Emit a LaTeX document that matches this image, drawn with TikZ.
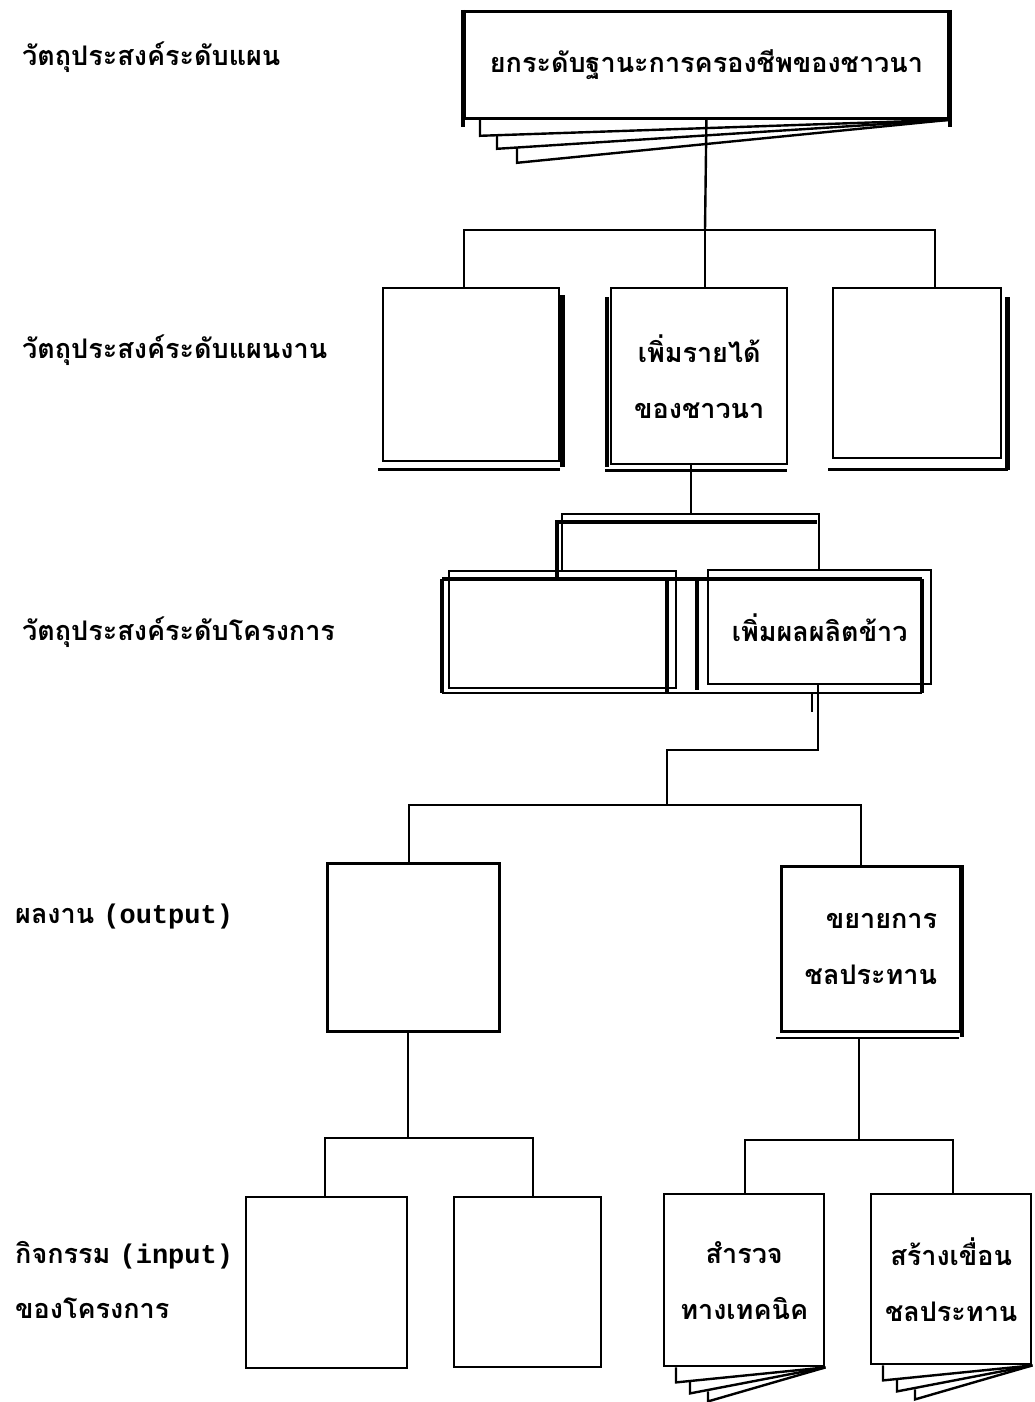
\documentclass[tikz,border=0pt]{standalone}
\usepackage{fontspec}
\newfontfamily\thai[Script=Thai]{Loma}
\newfontfamily\latmono{Liberation Mono}
\begin{document}
\begin{tikzpicture}[x=1pt,y=-1pt,
  bx/.style={draw, line width=2.4pt, inner sep=0pt, anchor=north west, align=center,
    font=\thai\bfseries\fontsize{27}{56}\selectfont},
  bxk/.style={bx, line width=3.4pt},
  lbl/.style={anchor=base west, inner sep=0pt, font=\thai\bfseries\fontsize{27}{56}\selectfont},
  ln/.style={line width=2.4pt},
  tk/.style={line width=4.4pt},
]
\fill[white] (0,0) rectangle (1034,1402);
\useasboundingbox (0,0) rectangle (1034,1402);

% level labels
\node[lbl] (l1) at (22,66) {วัตถุประสงค์ระดับแผน};
\node[lbl] (l2) at (22,358) {วัตถุประสงค์ระดับแผนงาน};
\node[lbl] (l3) at (22,640) {วัตถุประสงค์ระดับโครงการ};
\node[lbl] (l4) at (15,923) {ผลงาน {\latmono\fontsize{27}{56}\selectfont (output)}};
\node[lbl] (l5) at (15,1263) {กิจกรรม {\latmono\fontsize{27}{56}\selectfont (input)}};
\node[lbl] (l6) at (15,1318) {ของโครงการ};

% plan goal
\node[bx, line width=2.8pt, minimum width=484pt, minimum height=107pt] (goal) at (463,10) {ยกระดับฐานะการครองชีพของชาวนา};
\draw[tk] (goal.north west) -- ++(0,117);
\draw[tk] (goal.north east) -- ++(0,117);
\draw[ln] (goal.south west) ++(17,0) -- ++(0,16) -- (goal.south east);
\draw[ln] (goal.south west) ++(34,15) -- ++(0,14) -- (goal.south east);
\draw[ln] (goal.south west) ++(54,28) -- ++(0,15) -- (goal.south east);

% program level
\node[bx, minimum width=176pt, minimum height=173pt] (pA) at (382,287) {};
\node[bx, minimum width=176pt, minimum height=176pt] (pB) at (610,287) {เพิ่มรายได้\\ของชาวนา};
\node[bx, minimum width=168pt, minimum height=170pt] (pC) at (832,287) {};
\draw[tk] (pA.north east) ++(2,8) -- ++(0,172);
\draw[ln] (pA.south west) ++(-4,7) -- ++(182,0);
\draw[tk] (pB.north west) ++(-3,10) -- ++(0,170);
\draw[ln] (pB.south west) ++(-5,5) -- ++(182,0);
\draw[tk] (pC.north east) ++(5,10) -- ++(0,173);
\draw[ln] (pC.south west) ++(-4,10) -- ++(180,0);

\coordinate (b1) at (705,230);
\coordinate (d1) at (464,230);
\coordinate (d3) at (935,230);
\draw[ln] (goal.south) -- (b1);
\draw[ln] (d1 |- pA.north) -- (d1) -- (d3) -- (d3 |- pC.north);
\draw[ln] (b1) -- (b1 |- pB.north);

% project level
\node[bx, minimum width=227pt, minimum height=117pt] (qA) at (448,570) {};
\node[bx, minimum width=223pt, minimum height=114pt] (qB) at (707,569) {เพิ่มผลผลิตข้าว};
\coordinate (fr) at (442,579);
\draw[tk] (fr) -- ++(480,0);
\draw[tk] (fr) -- ++(0,114);
\draw[tk] (fr) ++(225,0) -- ++(0,114);
\draw[tk] (fr) ++(255,0) -- ++(0,111);
\draw[tk] (fr) ++(480,0) -- ++(0,114);
\draw[ln] (fr) ++(0,114) -- ++(480,0);

\coordinate (b2) at (691,514);
\coordinate (e1) at (562,514);
\coordinate (e2) at (819,514);
\coordinate (f1) at (557,522);
\coordinate (f2) at (817,522);
\draw[ln] (b2 |- pB.south) -- (b2);
\draw[ln] (e1 |- qA.north) -- (e1) -- (e2) -- (e2 |- qB.north);
\draw[tk] (f2) -- (f1) -- (f1 |- fr);

% output level
\node[bxk, minimum width=172pt, minimum height=168pt] (rA) at (326,862) {};
\node[bx, line width=2.8pt, minimum width=179pt, minimum height=165pt, align=right] (rB) at (780,865) {ขยายการ\\ชลประทาน};
\draw[tk] (rB.north east) -- ++(0,172);
\draw[ln] (rB.south west) ++(-4,5) -- ++(183,0);

\coordinate (g1) at (818,750);
\coordinate (g2) at (667,750);
\coordinate (g3) at (812,712);
\coordinate (h1) at (409,805);
\coordinate (h2) at (861,805);
\draw[ln] (g1 |- qB.south) -- (g1) -- (g2) -- (g2 |- h1);
\draw[ln] (g3 |- fr) ++(0,114) -- (g3);
\draw[ln] (h1 |- rA.north) -- (h1) -- (h2) -- (h2 |- rB.north);

% activities
\node[bx, minimum width=161pt, minimum height=171pt] (sA) at (245,1196) {};
\node[bx, minimum width=147pt, minimum height=170pt] (sB) at (453,1196) {};
\node[bx, minimum width=160pt, minimum height=172pt] (sC) at (663,1193) {สำรวจ\\ทางเทคนิค};
\node[bx, minimum width=160pt, minimum height=170pt] (sD) at (870,1193) {สร้างเขื่อน\\ชลประทาน};

\coordinate (k1) at (408,1138);
\coordinate (m1) at (325,1138);
\coordinate (m2) at (533,1138);
\draw[ln] (k1 |- rA.south) -- (k1);
\draw[ln] (m1 |- sA.north) -- (m1) -- (m2) -- (m2 |- sB.north);

\coordinate (k2) at (859,1140);
\coordinate (n1) at (745,1140);
\coordinate (n2) at (953,1140);
\draw[ln] (k2 |- rB.south) ++(0,5) -- (k2);
\draw[ln] (n1 |- sC.north) -- (n1) -- (n2) -- (n2 |- sD.north);

\foreach \b in {sC,sD}{
  \draw[ln] (\b.south west) ++(13,0) -- ++(0,15) -- (\b.south east);
  \draw[ln] (\b.south west) ++(27,13) -- ++(0,13) -- (\b.south east);
  \draw[ln] (\b.south west) ++(45,24) -- ++(0,10) -- (\b.south east);
}
\end{tikzpicture}
\end{document}
